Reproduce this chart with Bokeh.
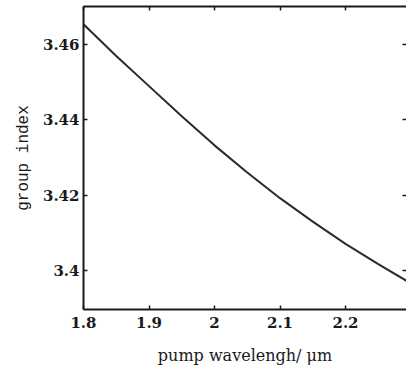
from bokeh.plotting import figure
from bokeh.models import LinearAxis, FixedTicker, Range1d
from bokeh.embed import file_html
from bokeh.resources import INLINE

# data
wavelength = [1.80, 1.85, 1.90, 1.95, 2.00, 2.05, 2.10, 2.15, 2.20, 2.25, 2.30]
group_index = [3.4653, 3.4569, 3.4489, 3.4409, 3.4332, 3.4260, 3.4192, 3.4130, 3.4071, 3.4017, 3.3966]

x_ticks = [1.8, 1.9, 2.0, 2.1, 2.2]
x_tick_labels = ["1.8", "1.9", "2", "2.1", "2.2"]
y_ticks = [3.40, 3.42, 3.44, 3.46]
y_tick_labels = ["3.4", "3.42", "3.44", "3.46"]

x_label = "pump wavelengh/ μm"
y_label = "group index"

SERIF = "DejaVu Serif"

p = figure(width=406, height=367, output_backend="svg", toolbar_location=None,
           x_range=Range1d(1.8, 2.2931), y_range=Range1d(3.3897, 3.4700),
           x_axis_location=None, y_axis_location=None)
p.min_border_left = 83
p.min_border_top = 6
p.min_border_bottom = 56
p.min_border_right = 0
p.outline_line_color = None
p.grid.visible = False
p.background_fill_color = "white"
p.border_fill_color = "white"

p.line(wavelength, group_index, line_color="#2a2a2a", line_width=2)

ink = "#1a1a1a"

def style(ax, labels=True):
    ax.axis_line_color = ink
    ax.axis_line_width = 2
    ax.major_tick_line_color = ink
    ax.major_tick_line_width = 1.5
    ax.major_tick_in = 4
    ax.major_tick_out = 0
    ax.minor_tick_line_color = None
    if labels:
        ax.major_label_text_font = SERIF
        ax.major_label_text_font_style = "bold"
        ax.major_label_text_font_size = "15px"
        ax.major_label_text_color = ink
    else:
        ax.major_label_text_font_size = "1px"
        ax.major_label_standoff = 0

xa = LinearAxis(ticker=FixedTicker(ticks=x_ticks, minor_ticks=[]))
xa.major_label_overrides = dict(zip(x_ticks, x_tick_labels))
style(xa)
xa.major_label_standoff = 7
xa.axis_label = x_label
xa.axis_label_text_font = SERIF
xa.axis_label_text_font_style = "normal"
xa.axis_label_text_font_size = "16px"
xa.axis_label_text_color = ink
xa.axis_label_standoff = 15
p.add_layout(xa, "below")

ya = LinearAxis(ticker=FixedTicker(ticks=y_ticks, minor_ticks=[]))
ya.major_label_overrides = dict(zip(y_ticks, y_tick_labels))
style(ya)
ya.major_label_standoff = 4
ya.axis_label = y_label
ya.axis_label_text_font = "Liberation Mono"
ya.axis_label_text_font_style = "normal"
ya.axis_label_text_font_size = "16px"
ya.axis_label_text_color = ink
ya.axis_label_standoff = 7
p.add_layout(ya, "left")

ta = LinearAxis(ticker=FixedTicker(ticks=x_ticks, minor_ticks=[]))
ta.major_label_overrides = {t: "" for t in x_ticks}
style(ta, labels=False)
p.add_layout(ta, "above")

ra = LinearAxis(ticker=FixedTicker(ticks=y_ticks, minor_ticks=[]))
ra.major_label_overrides = {t: "" for t in y_ticks}
style(ra, labels=False)
ra.axis_line_color = None
p.add_layout(ra, "right")

open("out.html", "w").write(file_html(p, INLINE))
